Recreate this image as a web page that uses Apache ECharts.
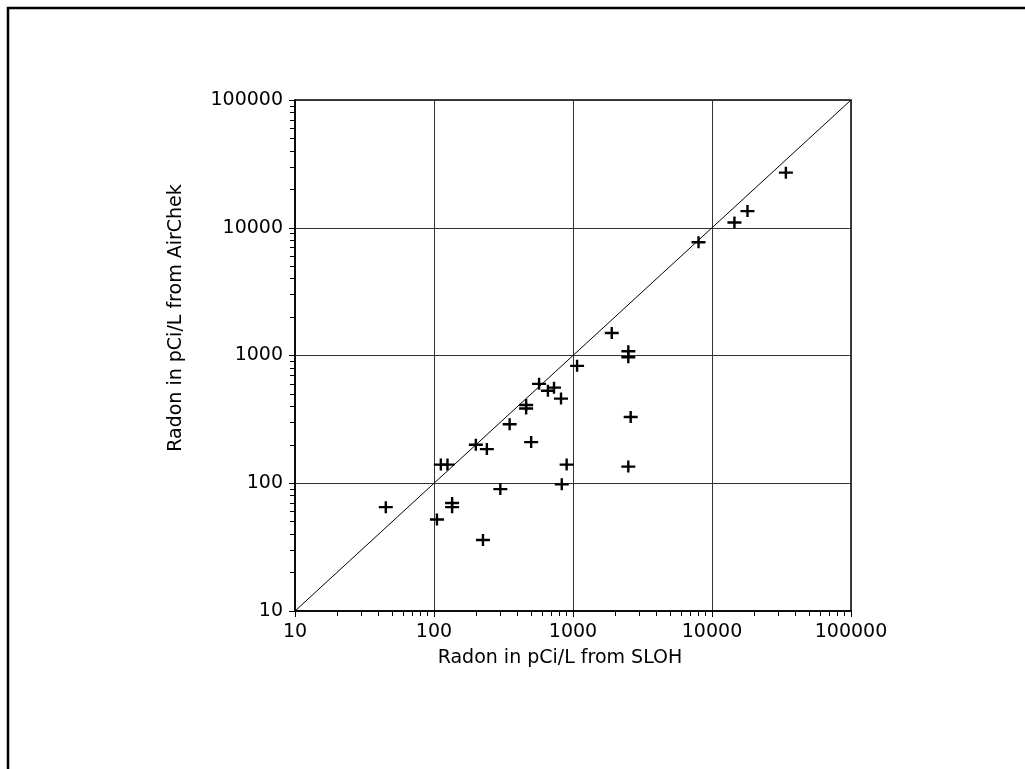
<!DOCTYPE html>
<html>
<head>
<meta charset="utf-8">
<script src="https://cdn.jsdelivr.net/npm/echarts@6/dist/echarts.min.js"></script>
<style>
  html, body { margin: 0; padding: 0; background: #fff; }
  #chart { width: 1025px; height: 769px; }
</style>
</head>
<body>
<div id="chart"></div>
<script>
// Radon in pCi/L: SLOH (x) vs AirChek (y)
const slohValues = [45, 105, 112, 125, 135, 135, 200, 240, 225, 300, 350, 460, 460, 500, 570, 660, 730, 820, 830, 900, 1070, 1900, 2500, 2500, 2600, 2500, 8000, 14500, 18000, 34000];
const airChekValues = [65, 52, 140, 140, 70, 65, 200, 185, 36, 90, 290, 410, 385, 210, 600, 530, 560, 460, 98, 140, 830, 1500, 1080, 970, 330, 135, 7700, 11000, 13500, 27000];
const tickLabels = ["10", "100", "1000", "10000", "100000"];
const diagonal = [[10, 10], [100000, 100000]];

// minor ticks 2..9 in every decade
const minorTicks = [];
[10, 100, 1000, 10000].forEach((d) => {
  for (let k = 2; k <= 9; k++) minorTicks.push(d * k);
});

const points = slohValues.map((x, i) => [x, airChekValues[i]]);
const font = "DejaVu Sans";
const crossPath = "path://M0,4.8H14V7.2H0Z M5.8,0H8.2V12H5.8Z";

let myChart = echarts.init(document.getElementById("chart"));

const baseAxis = {
  type: "log",
  logBase: 10,
  min: 10,
  max: 100000,
};

const labelFormatter = (v) => tickLabels.find((t) => Number(t) === Math.round(v)) || "";

myChart.setOption({
  animation: false,
  backgroundColor: "#fff",
  grid: {
    left: 295,
    right: 174,
    top: 100,
    bottom: 158,
    show: true,
    borderColor: "#000",
    borderWidth: 1.5,
  },
  xAxis: [
    {
      ...baseAxis,
      position: "bottom",
      axisLine: { show: true, lineStyle: { color: "#000", width: 1.5 } },
      axisTick: { show: true, length: 6, lineStyle: { color: "#000" } },
      axisLabel: {
        color: "#000",
        fontFamily: font,
        fontSize: 19,
        margin: 12,
        formatter: labelFormatter,
      },
      splitLine: { show: true, lineStyle: { color: "#333", width: 1 } },
    },
    {
      ...baseAxis,
      position: "bottom",
      axisLine: { show: false },
      axisLabel: { show: false },
      splitLine: { show: false },
      axisTick: { show: true, length: 5, customValues: minorTicks, lineStyle: { color: "#000" } },
    },
  ],
  yAxis: [
    {
      ...baseAxis,
      position: "left",
      axisLine: { show: true, lineStyle: { color: "#000", width: 1.5 } },
      axisTick: { show: true, length: 6, lineStyle: { color: "#000" } },
      axisLabel: {
        color: "#000",
        fontFamily: font,
        fontSize: 19,
        margin: 12,
        formatter: labelFormatter,
      },
      splitLine: { show: true, lineStyle: { color: "#333", width: 1 } },
    },
    {
      ...baseAxis,
      position: "left",
      axisLine: { show: false },
      axisLabel: { show: false },
      splitLine: { show: false },
      axisTick: { show: true, length: 5, customValues: minorTicks, lineStyle: { color: "#000" } },
    },
  ],
  graphic: [
    {
      type: "polyline",
      shape: { points: [[8, 769], [8, 8], [1025, 8]] },
      style: { stroke: "#000", lineWidth: 2.5, fill: null },
    },
    {
      type: "text",
      x: 176,
      y: 318,
      rotation: Math.PI / 2,
      style: {
        text: "Radon in pCi/L from AirChek",
        fill: "#000",
        font: "19px DejaVu Sans",
        align: "center",
        verticalAlign: "middle",
      },
    },
    {
      type: "text",
      x: 560,
      y: 658,
      style: {
        text: "Radon in pCi/L from SLOH",
        fill: "#000",
        font: "19px DejaVu Sans",
        align: "center",
        verticalAlign: "middle",
      },
    },
  ],
  series: [
    {
      type: "line",
      data: diagonal,
      showSymbol: false,
      symbol: "none",
      lineStyle: { color: "#000", width: 1 },
      z: 2,
    },
    {
      type: "scatter",
      data: points,
      symbol: crossPath,
      symbolSize: [14, 12],
      itemStyle: { color: "#000", opacity: 1 },
      z: 3,
    },
  ],
});
</script>
</body>
</html>
